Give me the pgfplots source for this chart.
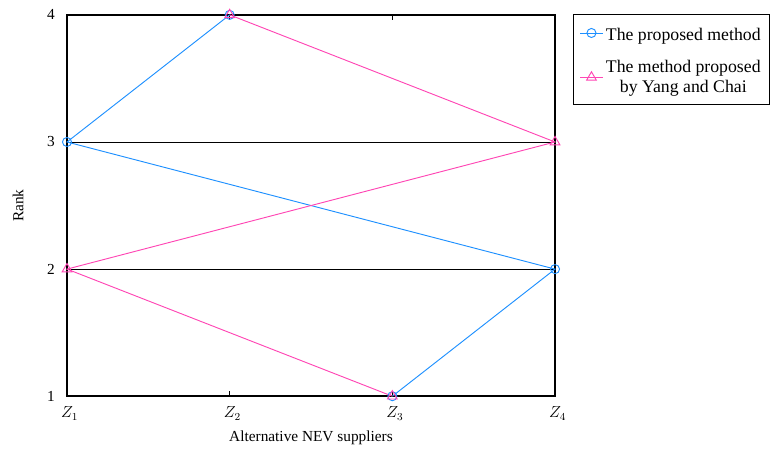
\documentclass[border=0pt]{standalone}
\usepackage{pgfplots}
\pgfplotsset{compat=1.18}
\usepackage{fontspec}
\setmainfont{Liberation Serif}
\definecolor{cblue}{RGB}{30,144,255}
\definecolor{cpink}{RGB}{255,70,180}
\begin{document}
\begin{tikzpicture}
\begin{axis}[
  scale only axis, width=366pt, height=286pt,
  xmin=1, xmax=4, ymin=1, ymax=4,
  xtick={1,2,3,4}, xticklabels={$Z_1$,$Z_2$,$Z_3$,$Z_4$},
  ytick={1,2,3,4},
  ymajorgrids, grid style={black, line width=0.6pt},
  tick align=inside,
  major tick length=4pt,
  major tick style={black, line width=0.6pt},
  axis line style={line width=1.1pt},
  /pgf/number format/assume math mode=true,
  tick label style={font=\fontsize{11.5}{13}\selectfont},
  xticklabel style={anchor=center, yshift=-13pt, xshift=2pt},
  yticklabel style={anchor=center, xshift=-12pt},
  xlabel={Alternative NEV suppliers},
  ylabel={Rank},
  xlabel style={at={(axis description cs:0.5,-0.110)}, anchor=center, font=\fontsize{11.5}{13}\selectfont},
  ylabel style={at={(axis description cs:-0.1,0.5)}, anchor=center, font=\fontsize{11.5}{13}\selectfont},
  clip=false,
  legend style={at={(axis description cs:1,1)}, anchor=north west, xshift=13.5pt, yshift=1pt,
    draw=black, line width=0.9pt, font=\fontsize{13.3}{15.6}\selectfont,
    cells={align=center}, inner xsep=4.5pt, inner ysep=5pt, row sep=9pt},
  legend cell align=center,
]
\addplot[cblue, line width=0.7pt, mark=o, mark size=3.4pt, mark options={solid, line width=0.7pt}] coordinates {(3,1) (4,2) (1,3) (2,4)};
\addlegendentry{\rule{0pt}{12.75pt}The proposed method}
\addplot[cpink, line width=0.7pt, mark=triangle, mark size=4.2pt, mark options={solid, line width=0.7pt}] coordinates {(3,1) (1,2) (4,3) (2,4)};
\addlegendentry{The method proposed\\by Yang and Chai\rule[-7pt]{0pt}{7pt}}
\path (rel axis cs:-0.1373,-0.147) (rel axis cs:1.4426,1.039);
\end{axis}
\end{tikzpicture}
\end{document}
